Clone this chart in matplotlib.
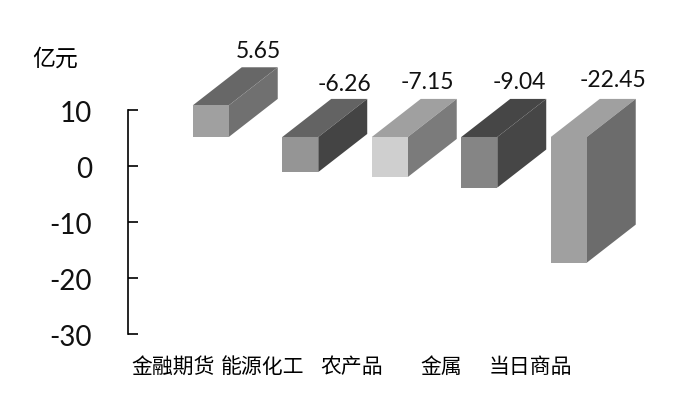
import matplotlib
matplotlib.use('Agg')
import matplotlib.pyplot as plt

categories = ['金融期货', '能源化工', '农产品', '金属', '当日商品']
values = [5.65, -6.26, -7.15, -9.04, -22.45]
labels = ['5.65', '-6.26', '-7.15', '-9.04', '-22.45']
yticks = [10, 0, -10, -20, -30]

front_colors = ['#a0a0a0', '#959595', '#cfcfcf', '#858585', '#a0a0a0']
top_colors = ['#676767', '#636363', '#a0a0a0', '#464646', '#a0a0a0']
side_colors = ['#707070', '#444444', '#7b7b7b', '#464646', '#6c6c6c']
# px, the labels are not quite centred on the bars
label_nudge_x = [-1, -5, -11, -9, -5]
label_nudge_y = [17, 15, 17, 17, 19]

# fake 3d: the bars sit up and to the right of the axis
BAR_W = 0.402
SHIFT_X = 0.425
SHIFT_Y = 5.18
DEPTH_X = 0.547
DEPTH_Y = 6.8

plt.rcParams['font.family'] = ['Lato', 'Noto Sans CJK SC', 'DejaVu Sans']
plt.rcParams['axes.unicode_minus'] = False

fig = plt.figure(figsize=(6.85, 4.02), dpi=100)
ax = fig.add_axes([128 / 685, 67 / 402, 447.5 / 685, 224 / 402])

for i, v in enumerate(values):
    x0 = i + SHIFT_X - BAR_W / 2
    x1 = x0 + BAR_W
    y_hi = SHIFT_Y + max(v, 0)
    y_lo = SHIFT_Y + min(v, 0)
    ax.bar(x0, y_hi - y_lo, BAR_W, bottom=y_lo, align='edge', color=front_colors[i],
           linewidth=0, clip_on=False, zorder=3)
    ax.fill([x0, x1, x1 + DEPTH_X, x0 + DEPTH_X], [y_hi, y_hi, y_hi + DEPTH_Y, y_hi + DEPTH_Y],
            color=top_colors[i], linewidth=0, clip_on=False, zorder=2)
    ax.fill([x1, x1 + DEPTH_X, x1 + DEPTH_X, x1], [y_lo, y_lo + DEPTH_Y, y_hi + DEPTH_Y, y_hi],
            color=side_colors[i], linewidth=0, clip_on=False, zorder=2)
    ax.annotate(labels[i], (x0 + BAR_W / 2 + DEPTH_X, y_hi + DEPTH_Y),
                xytext=(label_nudge_x[i], label_nudge_y[i]), textcoords='offset pixels',
                ha='center', va='center', fontsize=16.5, color='#111111', annotation_clip=False)

ax.set_xlim(-0.5, 4.5)
ax.set_ylim(-30, 10)
ax.set_yticks(yticks)
ax.set_xticks(range(len(categories)))
ax.set_xticklabels(categories, fontsize=15)
ax.tick_params(axis='x', length=0, pad=16)
ax.tick_params(axis='y', direction='in', length=7.5, width=1.2, pad=26, labelsize=20)
for lab in ax.get_yticklabels():
    lab.set_color('#111111')

for s in ['top', 'right', 'bottom']:
    ax.spines[s].set_visible(False)
ax.spines['left'].set_linewidth(1.2)

fig.text(55 / 685, 1 - 59 / 402, '亿元', ha='center', va='center', fontsize=16.5)

fig.savefig('out.png', dpi=100)
